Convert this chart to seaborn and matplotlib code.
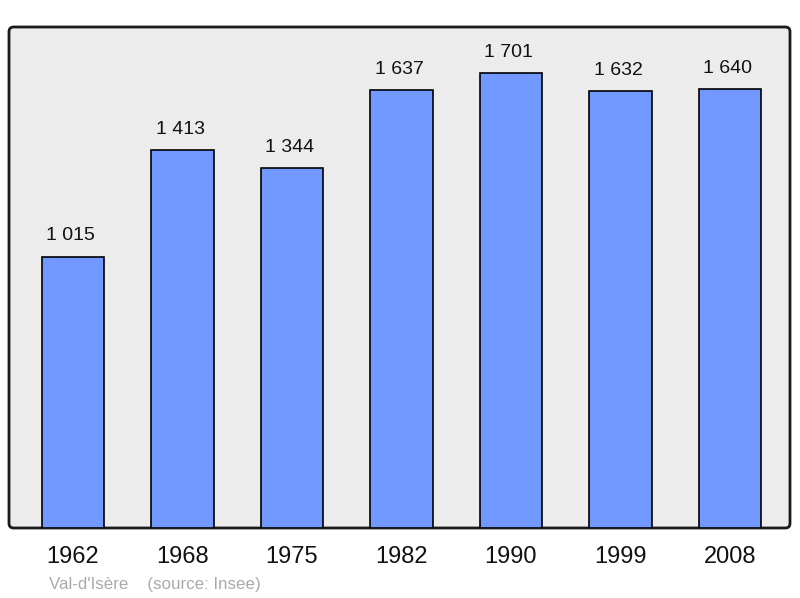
import matplotlib
matplotlib.use("Agg")
import matplotlib.pyplot as plt
import seaborn as sns
import pandas as pd
from matplotlib.patches import FancyBboxPatch

years = ["1962", "1968", "1975", "1982", "1990", "1999", "2008"]
population = [1015, 1413, 1344, 1637, 1701, 1632, 1640]
value_labels = ["1 015", "1 413", "1 344", "1 637", "1 701", "1 632", "1 640"]

sns.set_theme(style="white")
plt.rcParams['font.family'] = ['Liberation Sans', 'DejaVu Sans']

df = pd.DataFrame({"year": years, "pop": population})

fig = plt.figure(figsize=(8, 5.98), dpi=100)
ax = fig.add_axes([9/800, 70/598, 781/800, 501/598])
ax.set_facecolor("none")

bg = FancyBboxPatch((0, 0), 1, 1, boxstyle="round,pad=0,rounding_size=0.006",
                    transform=ax.transAxes, facecolor="#ececec", edgecolor="#1a1a1a",
                    linewidth=2, clip_on=False, zorder=0, mutation_aspect=781/501)
ax.add_patch(bg)

sns.barplot(data=df, x="year", y="pop", color="#7098ff", saturation=1,
            width=0.57, edgecolor="black", linewidth=1.2, ax=ax, zorder=2)

for i, (v, lab) in enumerate(zip(population, value_labels)):
    ax.text(i - 0.02, v + 45, lab, ha="center", va="bottom", fontsize=14, color="#111111")

ax.set_xlim(-0.585, 6.55)
ax.set_ylim(0, 1873)
for s in ax.spines.values():
    s.set_visible(False)
ax.set_yticks([])
ax.set_xlabel("")
ax.set_ylabel("")
ax.tick_params(axis="x", length=0, labelsize=17, pad=13, colors="#111111")

fig.text(49/800, 1 - 585/598, "Val-d'Isère    (source: Insee)", fontsize=12.2,
         color="#aaaaaa", ha="left", va="center")

fig.savefig("out.png", dpi=100)
